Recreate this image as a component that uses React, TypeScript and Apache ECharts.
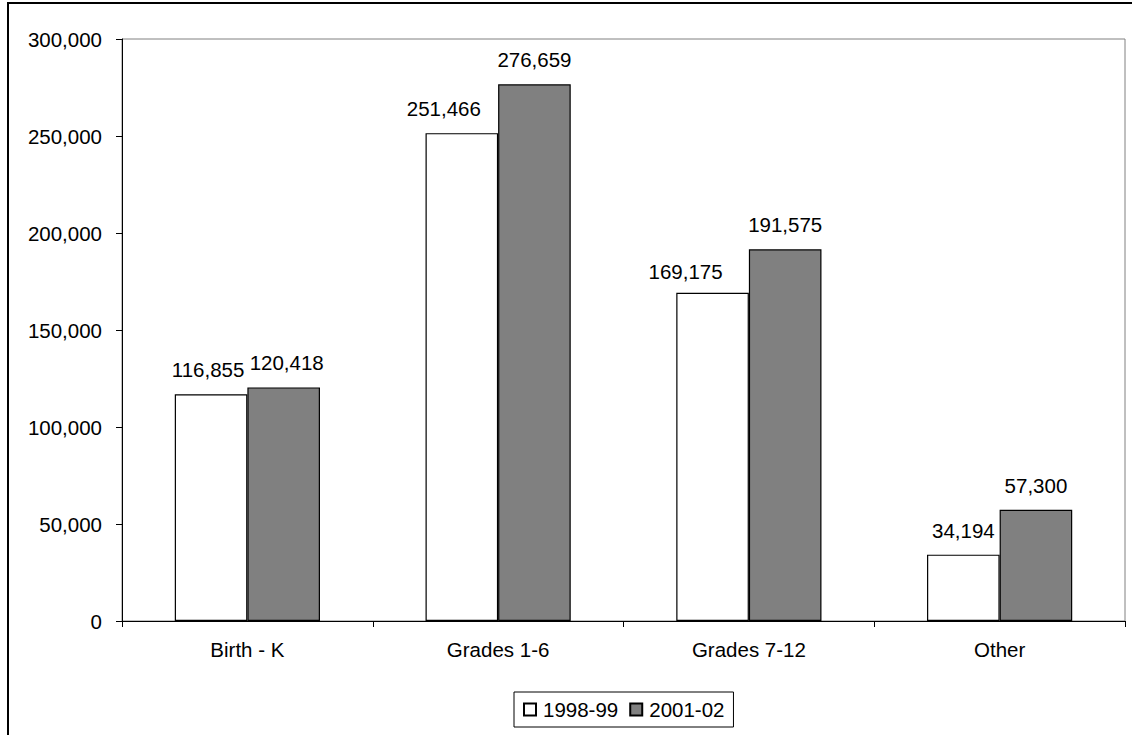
import React, { useEffect, useRef } from "react";
import * as echarts from "echarts";

const categories = ["Birth - K", "Grades 1-6", "Grades 7-12", "Other"];
const seriesNames = ["1998-99", "2001-02"];
const values1998 = [116855, 251466, 169175, 34194];
const values2001 = [120418, 276659, 191575, 57300];
const yTicks = { min: 0, max: 300000, interval: 50000 };

const FONT = "'Liberation Sans', Arial, sans-serif";
const FS = 20.5;

// nudges of individual labels, as in the reference
const offsets1998: Array<[number, number]> = [
  [-3, 0],
  [-18, 0],
  [-27, 3],
  [0, 0],
];
const offsets2001: Array<[number, number]> = [
  [3, 0],
  [0, 0],
  [0, 0],
  [0, 0],
];

export default function App() {
  const ref = useRef<HTMLDivElement>(null);
  useEffect(() => {
    if (!ref.current) return;
    const chart = echarts.init(ref.current, undefined, { renderer: "svg" });
    const fmt = (v: number) => v.toLocaleString("en-US");
    const labelBase = {
      show: true,
      position: "top" as const,
      distance: 14,
      color: "#000",
      fontFamily: FONT,
      fontSize: FS,
      formatter: (p: any) => fmt(p.value),
    };
    chart.setOption({
      animation: false,
      backgroundColor: "#fff",
      textStyle: { fontFamily: FONT, fontSize: FS, color: "#000" },
      graphic: [
        {
          type: "rect",
          z: -10,
          silent: true,
          shape: { x: 8, y: 3, width: 1140, height: 760 },
          style: { fill: "none", stroke: "#000", lineWidth: 2 },
        },
      ],
      grid: {
        left: 122,
        top: 39,
        width: 1003,
        height: 582,
        show: true,
        borderColor: "#808080",
        borderWidth: 1,
        backgroundColor: "transparent",
      },
      legend: {
        left: 514,
        top: 692,
        orient: "horizontal",
        data: seriesNames,
        icon: "rect",
        itemWidth: 12,
        itemHeight: 12,
        itemGap: 11,
        padding: [7, 9, 7, 9],
        borderColor: "#000",
        borderWidth: 1,
        textStyle: {
          fontFamily: FONT,
          fontSize: FS,
          color: "#000",
          padding: [0, 0, 0, 2],
        },
      },
      xAxis: {
        type: "category",
        data: categories,
        axisLine: { lineStyle: { color: "#000", width: 1 } },
        axisTick: { show: true, length: 6, lineStyle: { color: "#000" } },
        axisLabel: {
          color: "#000",
          fontFamily: FONT,
          fontSize: FS,
          margin: 18,
        },
      },
      yAxis: {
        type: "value",
        min: yTicks.min,
        max: yTicks.max,
        interval: yTicks.interval,
        splitLine: { show: false },
        axisLine: { show: true, lineStyle: { color: "#000", width: 1 } },
        axisTick: { show: true, length: 6, lineStyle: { color: "#000" } },
        axisLabel: {
          color: "#000",
          fontFamily: FONT,
          fontSize: FS,
          margin: 20,
          formatter: (v: number) => fmt(v),
        },
      },
      series: [
        {
          name: seriesNames[0],
          type: "bar",
          barWidth: 72.6,
          barGap: "0%",
          itemStyle: { color: "#ffffff", borderColor: "#000", borderWidth: 1.2 },
          label: labelBase,
          data: values1998.map((v, i) => ({
            value: v,
            label: { offset: offsets1998[i] },
          })),
        },
        {
          name: seriesNames[1],
          type: "bar",
          barWidth: 72.6,
          barGap: "0%",
          itemStyle: { color: "#808080", borderColor: "#000", borderWidth: 1.2 },
          label: labelBase,
          data: values2001.map((v, i) => ({
            value: v,
            label: { offset: offsets2001[i] },
          })),
        },
      ],
    });
    return () => chart.dispose();
  }, []);
  return (
    <div
      ref={ref}
      style={{ position: "absolute", left: 0, top: 0, width: 1132, height: 735 }}
    />
  );
}
